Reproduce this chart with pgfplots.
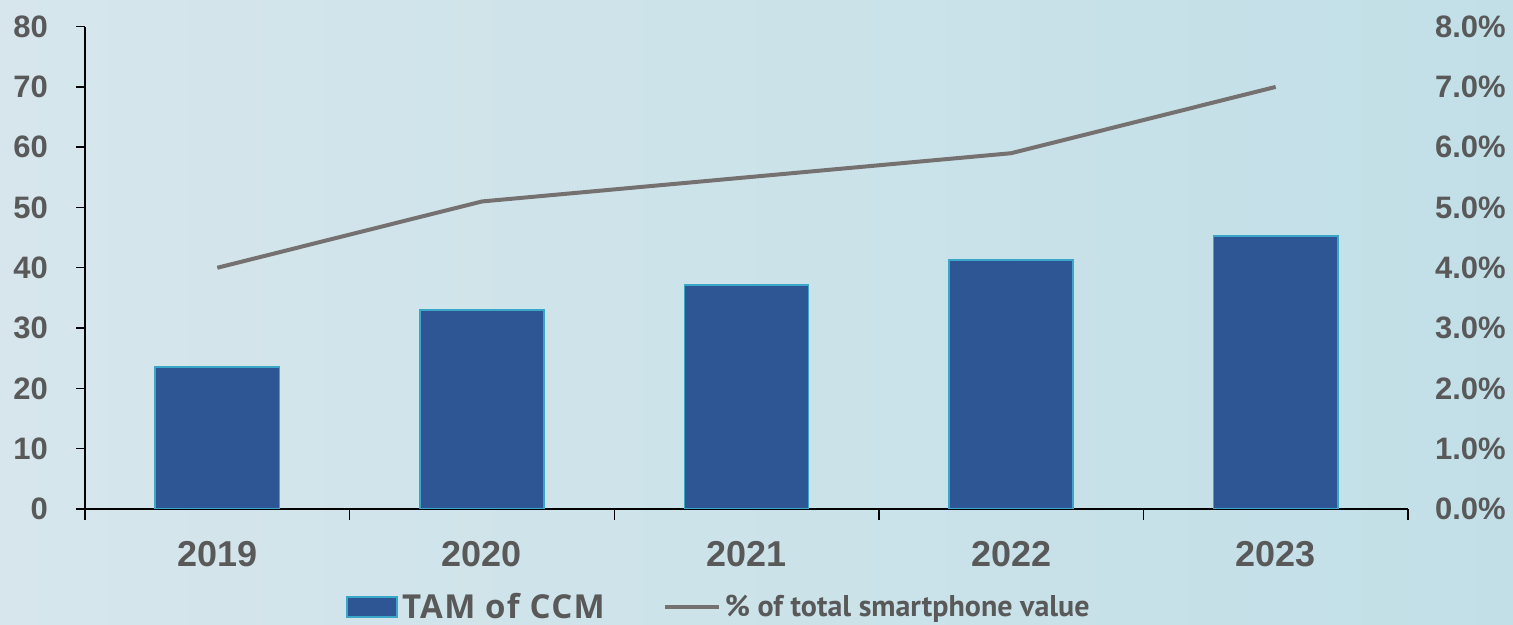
\documentclass[border=0pt]{standalone}
\usepackage{pgfplots}
\pgfplotsset{compat=1.18}
\usepackage{fontspec}
\setmainfont{Liberation Sans}
\newfontfamily\legfontA[LetterSpace=4]{Open Sans}
\newfontfamily\legfontB{PT Sans}
\definecolor{barfill}{HTML}{2E5594}
\definecolor{baredge}{HTML}{3AA6C8}
\definecolor{linegray}{HTML}{767171}
\definecolor{txt}{HTML}{595959}
\definecolor{bgL}{HTML}{D6E6EC}
\definecolor{bgM}{HTML}{ECECF2}
\definecolor{bgR}{HTML}{C2DFE7}
\begin{document}
\begin{tikzpicture}
\shade[left color=bgL, middle color=bgM, right color=bgR] (-42.5pt,-58pt) rectangle (714pt,254.5pt);
\begin{axis}[
  scale only axis,
  width=661.5pt, height=241.2pt,
  xmin=-0.5, xmax=4.5,
  ymin=0, ymax=80,
  axis x line*=bottom, axis y line*=left,
  axis line style={black, line width=0.7pt},
  xtick={0,1,2,3,4},
  xticklabels={2019,2020,2021,2022,2023},
  minor xtick={-0.5,0.5,1.5,2.5,3.5,4.5},
  major x tick style={draw=none},
  minor x tick style={black, line width=0.7pt},
  minor tick length=5.5pt,
  tick align=outside,
  ytick={0,10,...,80},
  major tick length=4.5pt,
  y tick style={black, line width=0.7pt},
  /pgf/number format/assume math mode=true,
  xticklabel style={font=\fontsize{18}{20}\selectfont\bfseries, text=txt, yshift=-8pt},
  yticklabel style={font=\fontsize{15.5}{18}\selectfont\bfseries, text=txt, xshift=-10.5pt},
  legend style={at={(0.48,-0.203)}, anchor=center, draw=none, fill=none,
    font=\fontsize{15}{18}\selectfont\bfseries, text=txt,
    /tikz/every even column/.append style={column sep=27pt}},
  legend columns=2,
  legend cell align=left,
]
\addplot[ybar, bar width=0.47, fill=barfill, draw=baredge, line width=0.8pt,
  legend image code/.code={\draw[fill=barfill, draw=baredge, line width=0.8pt] (0pt,-5pt) rectangle (25pt,5pt);}]
  coordinates {(0,23.5) (1,33.0) (2,37.1) (3,41.3) (4,45.3)};
\addlegendentry{\legfontA\fontsize{16.5}{18}\selectfont TAM of CCM}
\addlegendimage{linegray, line width=2pt, legend image code/.code={\draw[linegray, line width=2pt] (0pt,0pt) -- (27pt,0pt);}}
\addlegendentry{\legfontB\fontsize{15}{18}\selectfont\% of total smartphone value}
\end{axis}
\begin{axis}[
  scale only axis,
  width=661.5pt, height=241.2pt,
  xmin=-0.5, xmax=4.5,
  ymin=0, ymax=8,
  hide x axis,
  axis y line*=right,
  y axis line style={draw=none},
  ytick={0,1,...,8},
  yticklabels={0.0\%,1.0\%,2.0\%,3.0\%,4.0\%,5.0\%,6.0\%,7.0\%,8.0\%},
  major tick length=0pt,
  y tick style={draw=none},
  yticklabel style={font=\fontsize{15.5}{18}\selectfont\bfseries, text=txt, xshift=10pt},
]
\addplot[linegray, line width=2pt] coordinates {(0,4.0) (1,5.1) (2,5.5) (3,5.9) (4,7.0)};
\end{axis}
\pgfresetboundingbox
\useasboundingbox (-42.5pt,-58pt) rectangle (714pt,254.5pt);
\end{tikzpicture}
\end{document}
